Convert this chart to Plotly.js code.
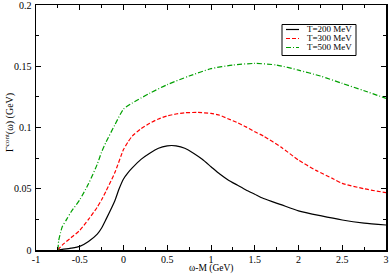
<!DOCTYPE html>
<html>
<head>
<meta charset="utf-8">
<script src="https://cdn.plot.ly/plotly-3.0.1.min.js"></script>
<style>html,body{margin:0;padding:0;background:#fff;}#chart{width:390px;height:274px;}</style>
</head>
<body>
<div id="chart"></div>
<script>
const seriesNames = ["T=200 MeV", "T=300 MeV", "T=500 MeV"];
const seriesColors = ["#000000", "#ff0000", "#00a000"];
const seriesDash = ["solid", "4px,2px", "5px,2px,1px,2px"];

const x200 = [-0.75,-0.7,-0.6,-0.5,-0.4,-0.3,-0.25,-0.2,-0.1,-0.05,0,0.05,0.1,0.2,0.3,0.4,0.5,0.55,0.6,0.7,0.8,0.9,1.0,1.1,1.2,1.3,1.4,1.5,1.6,1.8,2.0,2.25,2.5,2.75,3.0];
const y200 = [0,0.0005,0.0015,0.003,0.007,0.013,0.018,0.025,0.04,0.05,0.058,0.063,0.067,0.074,0.079,0.083,0.085,0.0853,0.085,0.083,0.079,0.074,0.068,0.062,0.057,0.053,0.049,0.0455,0.042,0.037,0.032,0.028,0.0245,0.022,0.0204];

const x300 = [-0.75,-0.7,-0.6,-0.5,-0.4,-0.3,-0.25,-0.2,-0.1,0,0.05,0.1,0.2,0.3,0.4,0.5,0.6,0.7,0.85,1.0,1.1,1.2,1.3,1.4,1.5,1.6,1.8,2.0,2.2,2.4,2.5,2.75,3.0];
const y300 = [0,0.004,0.01,0.016,0.025,0.035,0.041,0.048,0.063,0.082,0.088,0.093,0.099,0.1035,0.107,0.1095,0.111,0.112,0.1123,0.1115,0.11,0.107,0.104,0.1005,0.0965,0.093,0.084,0.0734,0.065,0.058,0.0544,0.05,0.0468];

const x500 = [-0.75,-0.74,-0.72,-0.7,-0.65,-0.6,-0.5,-0.4,-0.3,-0.25,-0.2,-0.1,0,0.1,0.2,0.3,0.5,0.75,1.0,1.25,1.5,1.75,2.0,2.25,2.5,2.75,3.0];
const y500 = [0,0.008,0.014,0.019,0.025,0.031,0.041,0.054,0.07,0.08,0.088,0.102,0.115,0.12,0.124,0.128,0.135,0.142,0.148,0.151,0.1523,0.151,0.1468,0.142,0.136,0.13,0.1238];

const xTickVals = [-1,-0.5,0,0.5,1,1.5,2,2.5,3];
const xTickText = ["-1","-0.5","0","0.5","1","1.5","2","2.5","3"];
const yTickVals = [0,0.05,0.1,0.15,0.2];
const yTickText = ["0","0.05","0.1","0.15","0.2"];

const serif = '"Liberation Serif", "DejaVu Serif", serif';

const xs = [x200, x300, x500];
const ys = [y200, y300, y500];
const traces = xs.map((xv, i) => ({
  x: xv, y: ys[i], name: seriesNames[i], mode: 'lines', showlegend: false,
  line: {color: seriesColors[i], width: 1.2, dash: seriesDash[i], shape: 'spline', smoothing: 0.6}
}));

// custom legend (box, samples, labels) in paper coordinates
const W = 390, H = 274, mL = 36, mR = 4, mT = 5, mB = 24;
const pw = W - mL - mR, ph = H - mT - mB;
const px = v => (v - mL) / pw;
const py = v => (H - mB - v) / ph;
const legendRowsY = [29.5, 38.5, 47.5];

const shapes = [{type:'rect', xref:'paper', yref:'paper', x0:px(282), x1:px(356), y0:py(24.5), y1:py(55.5),
  line:{color:'#000', width:1}, fillcolor:'#fff', layer:'above'}];
const annotations = [];
seriesNames.forEach((n, i) => {
  shapes.push({type:'line', xref:'paper', yref:'paper', x0:px(286), x1:px(299), y0:py(legendRowsY[i]), y1:py(legendRowsY[i]),
    line:{color:seriesColors[i], width:1.2, dash:seriesDash[i]}, layer:'above'});
  annotations.push({xref:'paper', yref:'paper', x:px(306), y:py(legendRowsY[i]), xanchor:'left', yanchor:'middle',
    text:n, showarrow:false, borderpad:0, font:{family:serif, size:9, color:'#000'}});
});
annotations.push({xref:'paper', yref:'paper', x:px(211), y:py(268.3), xanchor:'center', yanchor:'middle',
  text:'ω-M (GeV)', showarrow:false, borderpad:0, font:{family:serif, size:9.5, color:'#000'}});
annotations.push({xref:'paper', yref:'paper', x:px(9), y:py(123), xanchor:'center', yanchor:'middle', textangle:-90,
  text:'Γ<sup>cont</sup>(ω) (GeV)', showarrow:false, borderpad:0, font:{family:serif, size:10, color:'#000'}});

const axisCommon = {
  showgrid:false, zeroline:false, showline:true, linecolor:'#000', linewidth:1.5, mirror:'ticks',
  ticks:'inside', ticklen:5, tickwidth:1, tickcolor:'#000', ticklabeloverflow:'allow',
  tickfont:{family:serif, size:10, color:'#000'}
};

const layout = {
  width:W, height:H,
  margin:{l:mL, r:mR, t:mT, b:mB},
  paper_bgcolor:'#fff', plot_bgcolor:'#fff',
  showlegend:false,
  shapes: shapes,
  annotations: annotations,
  xaxis:Object.assign({}, axisCommon, {
    range:[-1,3], tickmode:'array', tickvals:xTickVals, ticktext:xTickText, ticklabelstandoff:-1,
    minor:{ticks:'inside', dtick:0.25, ticklen:3, tickcolor:'#000', tickwidth:1}
  }),
  yaxis:Object.assign({}, axisCommon, {
    range:[0,0.2], tickmode:'array', tickvals:yTickVals, ticktext:yTickText, ticklabelstandoff:1,
    minor:{ticks:'inside', dtick:0.025, ticklen:3, tickcolor:'#000', tickwidth:1}
  })
};

Plotly.newPlot('chart', traces, layout, {staticPlot:true, displayModeBar:false});
</script>
</body>
</html>
